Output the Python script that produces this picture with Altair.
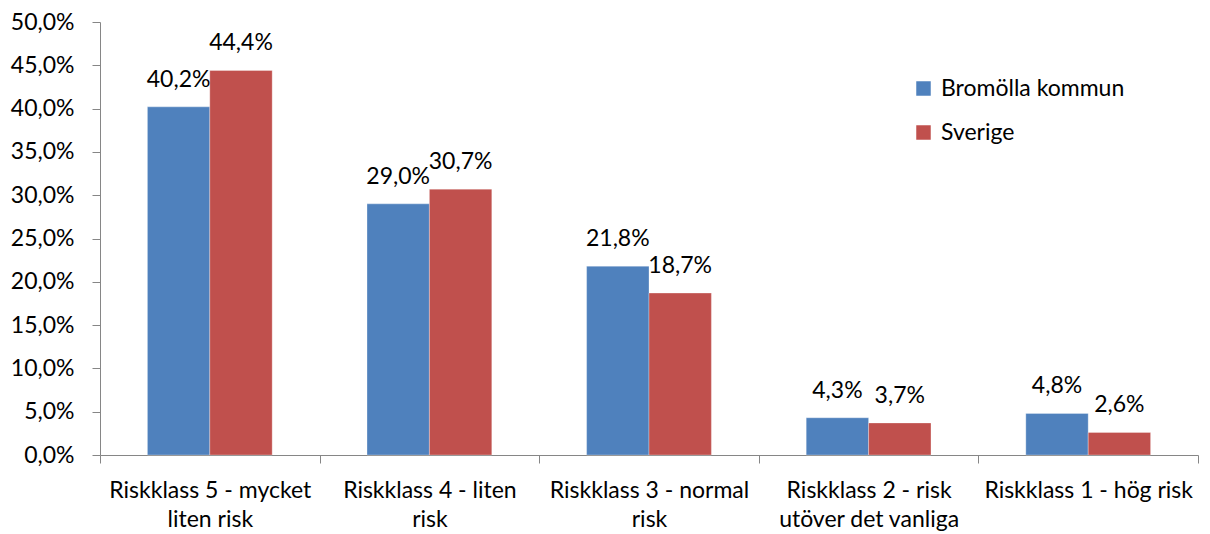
import altair as alt
import pandas as pd

categories = [
    "Riskklass 5 - mycket\nliten risk",
    "Riskklass 4 - liten\nrisk",
    "Riskklass 3 - normal\nrisk",
    "Riskklass 2 - risk\nutöver det vanliga",
    "Riskklass 1 - hög risk",
]
series = ["Bromölla kommun", "Sverige"]
bromolla = [0.402, 0.290, 0.218, 0.043, 0.048]
sverige = [0.444, 0.307, 0.187, 0.037, 0.026]
y_ticks = [0.0, 0.05, 0.10, 0.15, 0.20, 0.25, 0.30, 0.35, 0.40, 0.45, 0.50]
colors = ["#4F81BD", "#C0504D"]

rows = []
for c, b, s in zip(categories, bromolla, sverige):
    rows.append({"cat": c, "serie": series[0], "value": b})
    rows.append({"cat": c, "serie": series[1], "value": s})
df = pd.DataFrame(rows)

FONT = "Lato"
FS = 23

x = alt.X("cat:N", sort=categories, title=None,
          scale=alt.Scale(paddingInner=0, paddingOuter=0),
          axis=alt.Axis(labelAngle=0, labelExpr="split(datum.label, '\\n')",
                        tickBand="extent", domainColor="#868686", tickColor="#868686",
                        tickSize=8, labelPadding=16, labelFontSize=FS, labelFont=FONT,
                        labelColor="#000000", labelLineHeight=29, labelLimit=0))
xo = alt.XOffset("serie:N", sort=series, scale=alt.Scale(paddingInner=0, paddingOuter=0.76))
y = alt.Y("value:Q", title=None,
          scale=alt.Scale(domain=[0, 0.5], nice=False),
          axis=alt.Axis(values=y_ticks, grid=False,
                        labelExpr="replace(format(datum.value, '.1%'), '.', ',')",
                        domainColor="#868686", tickColor="#868686", tickSize=8,
                        labelPadding=18, labelFontSize=FS, labelFont=FONT, labelColor="#000000",
                        labelLimit=0))

bars = alt.Chart(df).mark_bar(stroke="white", strokeWidth=0.5, strokeOpacity=0.6).encode(
    x=x, xOffset=xo, y=y,
    color=alt.Color("serie:N", sort=series, title=None,
                    scale=alt.Scale(domain=series, range=colors),
                    legend=alt.Legend(orient="none", legendX=812, legendY=55,
                                      symbolType="square", symbolSize=210,
                                      symbolStrokeWidth=0, labelFontSize=FS,
                                      labelFont=FONT, labelColor="#000000",
                                      rowPadding=20, labelOffset=6, labelLimit=0)),
)

labels = alt.Chart(df).transform_calculate(
    lbl="replace(format(datum.value, '.1%'), '.', ',')"
).mark_text(baseline="bottom", dy=-15, font=FONT, fontSize=FS, color="#000000").encode(
    x=alt.X("cat:N", sort=categories), xOffset=xo, y="value:Q",
    text="lbl:N",
)

chart = alt.layer(bars, labels).properties(
    width=1098, height=433,
    autosize=alt.AutoSizeParams(type="none"),
    padding={"left": 92, "top": 14, "right": 4, "bottom": 78},
).configure(font=FONT).configure_view(stroke=None)

chart.save("out.html", embed_options={"renderer": "svg", "actions": False})
